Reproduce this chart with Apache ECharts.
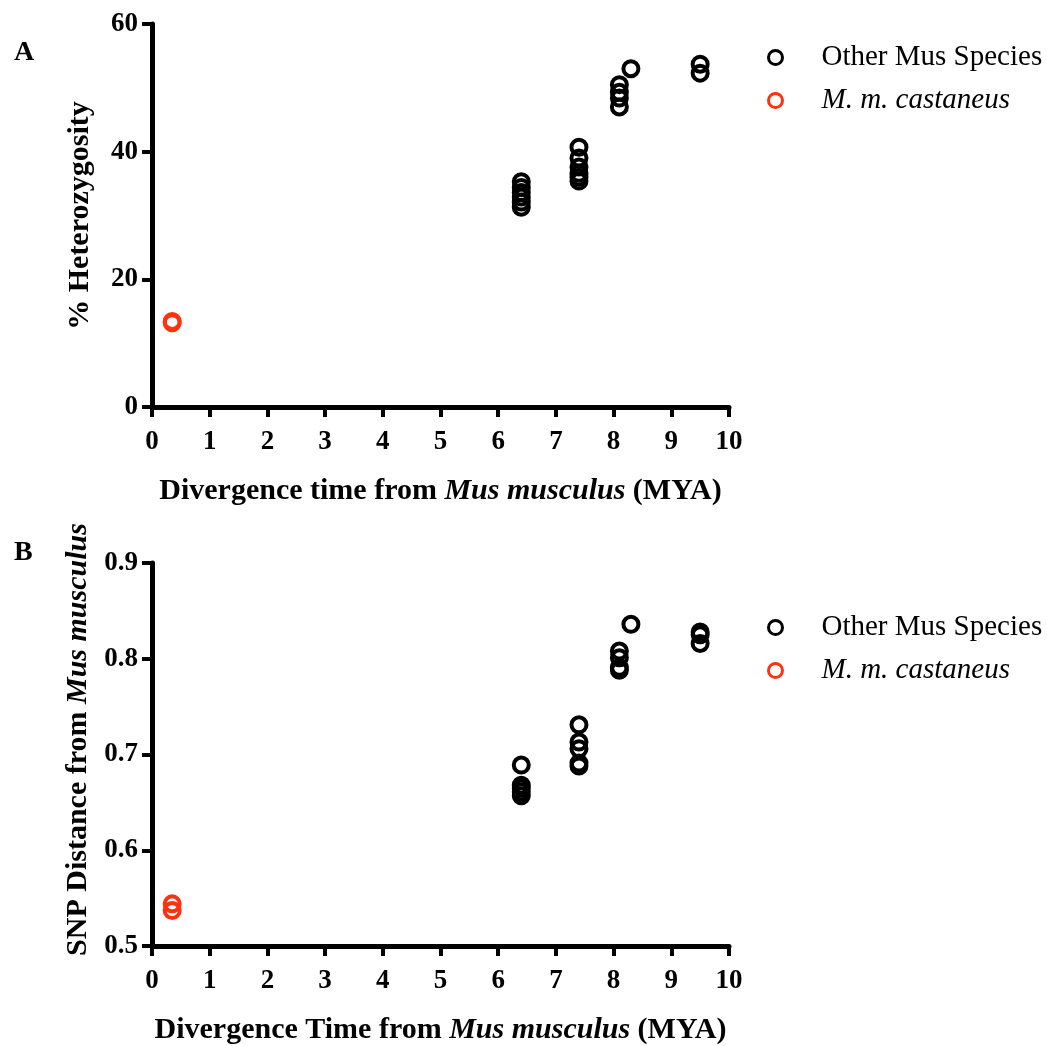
<!DOCTYPE html>
<html>
<head>
<meta charset="utf-8">
<script src="https://cdn.jsdelivr.net/npm/echarts@6/dist/echarts.min.js"></script>
<style>body{margin:0;background:#fff}#chart{width:1047px;height:1046px}</style>
</head>
<body>
<div id="chart"></div>
<script>
// panel A: % heterozygosity, [divergence MYA, value]
const hetOther = [
  [6.4, 35.3], [6.4, 34.4], [6.4, 33.6], [6.4, 32.9], [6.4, 32.1], [6.4, 31.3],
  [7.4, 40.7], [7.4, 39.0], [7.4, 37.6], [7.4, 36.6], [7.4, 36.0], [7.4, 35.4],
  [8.1, 50.5], [8.1, 49.3], [8.1, 48.4], [8.1, 47.0], [8.3, 53.0],
  [9.5, 53.7], [9.5, 52.3]
];
const hetCastaneus = [[0.35, 13.4], [0.35, 13.2]];

// panel B: SNP distance
const snpOther = [
  [6.4, 0.689], [6.4, 0.668], [6.4, 0.665], [6.4, 0.661], [6.4, 0.657],
  [7.4, 0.731], [7.4, 0.713], [7.4, 0.706], [7.4, 0.691], [7.4, 0.688],
  [8.1, 0.808], [8.1, 0.801], [8.1, 0.791], [8.1, 0.788], [8.3, 0.836],
  [9.5, 0.828], [9.5, 0.825], [9.5, 0.816]
];
const snpCastaneus = [[0.35, 0.544], [0.35, 0.537]];

const xTicks = { min: 0, max: 10, interval: 1 };
const hetTicks = { min: 0, max: 60, interval: 20 };
const snpTicks = { min: 0.5, max: 0.9, interval: 0.1 };

const serif = '"Liberation Serif", "Times New Roman", serif';
const RED = '#ff3210';

const axisCommon = {
  axisLine: { onZero: false, lineStyle: { color: '#000', width: 5 } },
  axisTick: { length: 10, lineStyle: { color: '#000', width: 4 } },
  axisLabel: { color: '#000', fontFamily: serif, fontWeight: 'bold', fontSize: 27, margin: 14 },
  splitLine: { show: false }
};
const nameRich = {
  b: { fontFamily: serif, fontWeight: 'bold', fontSize: 30, color: '#000' },
  i: { fontFamily: serif, fontWeight: 'bold', fontStyle: 'italic', fontSize: 30, color: '#000' }
};

function xAxis(idx, label) {
  return Object.assign({}, axisCommon, {
    type: 'value', gridIndex: idx, min: xTicks.min, max: xTicks.max, interval: xTicks.interval,
    name: '{b|' + label + ' }{i|Mus musculus}{b| (MYA)}',
    nameLocation: 'middle', nameGap: 69,
    nameTextStyle: { rich: nameRich },
    axisLabel: Object.assign({}, axisCommon.axisLabel, { margin: 22 })
  });
}
function yAxis(idx, ticks, name, gap, pad) {
  return Object.assign({}, axisCommon, {
    type: 'value', gridIndex: idx, min: ticks.min, max: ticks.max, interval: ticks.interval,
    name: name, nameLocation: 'middle', nameGap: gap,
    nameTextStyle: { rich: nameRich, padding: pad },
    axisLabel: Object.assign({}, axisCommon.axisLabel, {
      formatter: v => ticks.interval < 1 ? v.toFixed(1) : String(v)
    })
  });
}
function series(name, data, idx, color) {
  return {
    name: name, type: 'scatter', xAxisIndex: idx, yAxisIndex: idx, data: data,
    symbol: 'circle', symbolSize: 15,
    itemStyle: { color: 'rgba(0,0,0,0)', borderColor: color, borderWidth: 4, opacity: 1 }
  };
}
function legend(top) {
  return {
    top: top, left: 762, orient: 'vertical', itemGap: 14,
    icon: 'circle', itemWidth: 14, itemHeight: 14,
    data: [
      { name: 'Other Mus Species', itemStyle: { color: '#fff', borderColor: '#000', borderWidth: 3 } },
      { name: 'M. m. castaneus', itemStyle: { color: '#fff', borderColor: RED, borderWidth: 3 } }
    ],
    formatter: n => n === 'M. m. castaneus' ? '{i|' + n + '}' : '{r|' + n + '}',
    textStyle: {
      padding: [0, 0, 0, 34],
      rich: {
        r: { fontFamily: serif, fontSize: 29, color: '#000' },
        i: { fontFamily: serif, fontStyle: 'italic', fontSize: 29, color: '#000' }
      }
    }
  };
}

const chart = echarts.init(document.getElementById('chart'), null, { renderer: 'canvas' });
chart.setOption({
  backgroundColor: '#fff',
  animation: false,
  title: [
    { text: 'A', left: 9, top: 34, textStyle: { fontFamily: serif, fontWeight: 'bold', fontSize: 28, color: '#000' } },
    { text: 'B', left: 9, top: 534, textStyle: { fontFamily: serif, fontWeight: 'bold', fontSize: 28, color: '#000' } }
  ],
  legend: [
    Object.assign(legend(38), { id: 'la' }),
    Object.assign(legend(608), { id: 'lb' })
  ],
  grid: [
    { left: 152, right: 318, top: 24, height: 383 },
    { left: 152, right: 318, top: 563, height: 383 }
  ],
  xAxis: [
    xAxis(0, 'Divergence time from'),
    xAxis(1, 'Divergence Time from')
  ],
  yAxis: [
    yAxis(0, hetTicks, '{b|% Heterozygosity}', 57, 0),
    yAxis(1, snpTicks, '{b|SNP Distance from }{i|Mus musculus}', 57, [0, 0, 0, 30])
  ],
  series: [
    series('Other Mus Species', hetOther, 0, '#000'),
    series('M. m. castaneus', hetCastaneus, 0, RED),
    series('Other Mus Species', snpOther, 1, '#000'),
    series('M. m. castaneus', snpCastaneus, 1, RED)
  ]
});
</script>
</body>
</html>
